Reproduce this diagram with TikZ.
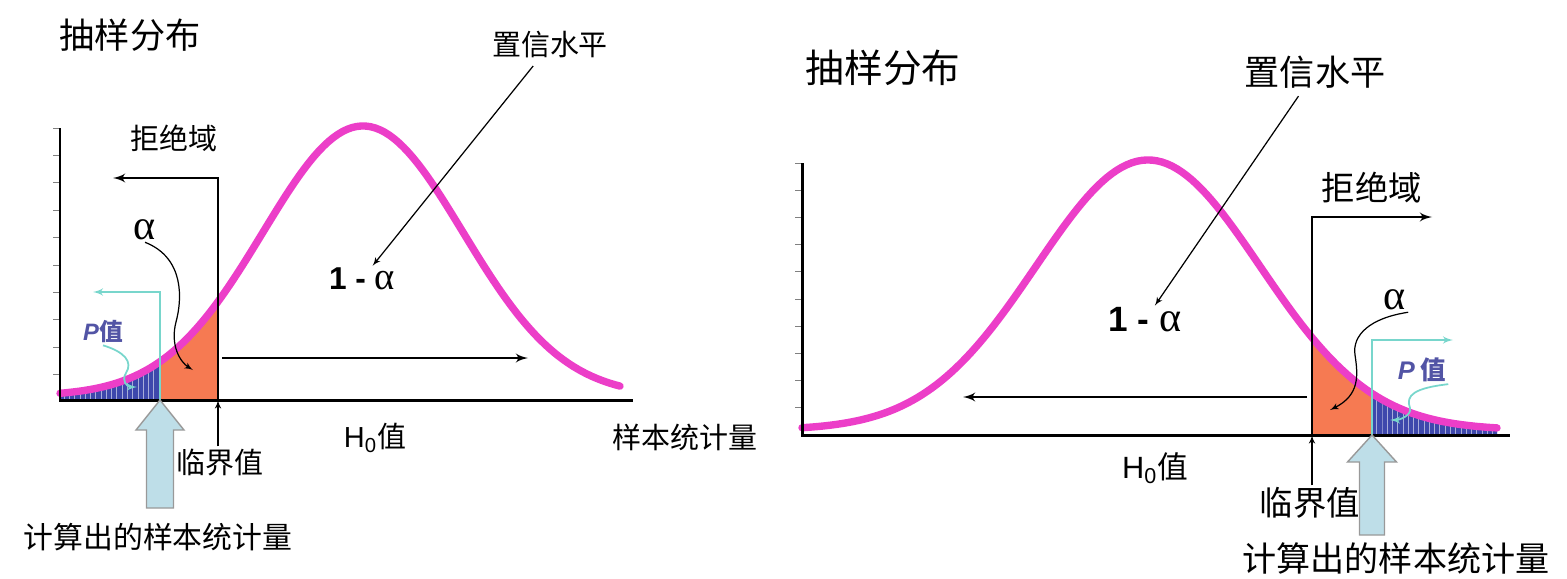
\documentclass[tikz,border=0pt]{standalone}
\usepackage{fontspec}
\setmainfont{Noto Sans CJK SC}
\newfontfamily\arialfont{Liberation Sans}
\newfontfamily\timesfont{Liberation Serif}
\usetikzlibrary{arrows, positioning, patterns}
\newcommand{\setfs}[1]{\fontsize{#1}{#1}\selectfont}
\definecolor{curvepink}{RGB}{236,62,200}
\definecolor{alphafill}{RGB}{246,122,82}
\definecolor{pfill}{RGB}{62,72,172}
\definecolor{pcyan}{RGB}{120,214,204}
\definecolor{ptext}{RGB}{82,84,165}
\definecolor{statfill}{RGB}{190,222,232}
\tikzstyle{axis} = [draw=black, line width=1.7pt]
\tikzstyle{tick} = [draw=gray, line width=0.4pt]
\tikzstyle{density} = [draw=curvepink, line width=4.2pt, line cap=round]
\tikzstyle{region} = [draw=black, line width=1.4pt, -latex']
\tikzstyle{line} = [draw, line width=0.7pt, -latex']
\tikzstyle{pline} = [draw=pcyan, line width=1pt, -latex']
\tikzstyle{statbox} = [draw=gray!80, line width=0.8pt, fill=statfill]
\tikzstyle{title} = [inner sep=1pt, font=\setfs{20}]
\tikzstyle{cntext} = [inner sep=1pt, font=\setfs{16.5}]
\tikzstyle{onealpha} = [inner sep=1pt, font=\arialfont\bfseries\setfs{18}]
\tikzstyle{greek} = [inner sep=1pt, font=\timesfont\setfs{24}]
\tikzstyle{pvalue} = [inner sep=1pt, text=ptext, font=\bfseries\setfs{13.5}]

\begin{document}
\begin{tikzpicture}[x=0.02cm, y=-0.02cm]
\useasboundingbox (0,0) rectangle (1567,578);

% Left panel
% Shaded tail areas
\fill[pfill] (60,400) -- plot[domain=60:160, samples=30] (\x, {396-270*exp(-0.5*((\x-363)/100)^2)}) -- (160,400) -- cycle;
\fill[pattern=vertical lines, pattern color=pfill!45!white] (60,400) -- plot[domain=60:160, samples=30] (\x, {396-270*exp(-0.5*((\x-363)/100)^2)}) -- (160,400) -- cycle;
\fill[alphafill] (160,400) -- plot[domain=160:218, samples=20] (\x, {396-270*exp(-0.5*((\x-363)/100)^2)}) -- (218,400) -- cycle;
\draw[density] plot[domain=60:620, samples=120] (\x, {396-270*exp(-0.5*((\x-363)/100)^2)});
\foreach \i in {0,...,9}
    \draw[tick] (53,{128+27.4*\i}) -- (60,{128+27.4*\i});
\draw[axis] (60,128) -- (60,400) -- (633,400);

\node (ltitle) [title] at (130,35) {抽样分布};
\node (lconf) [cntext] at (550,45) {置信水平};
\node (lone) [onealpha] at (362,279) {1 - {\timesfont\mdseries\setfs{22}α}};
\node (lrej) [cntext] at (174,138) {拒绝域};
\node (lalpha) [greek] at (145,230) {α};
\node (lp) [pvalue] at (103,332) {{\arialfont\itshape P}值};
\node (lcv) [cntext] at (220,462) {临界值};
\node (lh0) [cntext] at (375,438) {{\arialfont H\textsubscript{0}}值};
\node (lstat) [cntext] at (685,437) {样本统计量};
\node (lcalc) [cntext, font=\setfs{17}] at (158,537) {计算出的样本统计量};

\coordinate (lcrit) at (218,400);
\coordinate (lobs) at (160,400);
\coordinate (lrejend) at (113,178);
\coordinate (laccstart) at (222,358);
\coordinate (laccend) at (528,358);
\coordinate (lalphaend) at (193,370);
\coordinate (lpbar) at (93,292);
\coordinate (lpend) at (137,387);

% Connections
\draw [region] (lcrit) |- (lrejend);
\draw [region] (laccstart) -- (laccend);
\draw [line, shorten <=4pt] (lconf) -- (lone);
\draw [line] (lcv.north -| lcrit) -- (lcrit);
\draw [line] (lalpha.south) .. controls (185,258) and (182,300) .. (176,322) .. controls (170,345) and (180,362) .. (lalphaend);
\draw [pline] (lobs) |- (lpbar);
\draw [pline] (lp.south) .. controls (125,352) and (133,362) .. (126,373) .. controls (121,381) and (127,387) .. (lpend);
\draw [statbox] (lobs) -- ++(24,30) -- ++(-10.5,0) -- ++(0,78) -- ++(-27,0) -- ++(0,-78) -- ++(-10.5,0) -- cycle;

% Right panel
% Shaded tail areas
\fill[alphafill] (1312,435) -- plot[domain=1312:1372, samples=20] (\x, {430-270*exp(-0.5*((\x-1148)/112)^2)}) -- (1372,435) -- cycle;
\fill[pfill] (1372,435) -- plot[domain=1372:1497, samples=30] (\x, {430-270*exp(-0.5*((\x-1148)/112)^2)}) -- (1497,435) -- cycle;
\fill[pattern=vertical lines, pattern color=pfill!45!white] (1372,435) -- plot[domain=1372:1497, samples=30] (\x, {430-270*exp(-0.5*((\x-1148)/112)^2)}) -- (1497,435) -- cycle;
\draw[density] plot[domain=802:1497, samples=140] (\x, {430-270*exp(-0.5*((\x-1148)/112)^2)});
\foreach \i in {0,...,9}
    \draw[tick] (795,{163+27.2*\i}) -- (802,{163+27.2*\i});
\draw[axis] (802,163) -- (802,435) -- (1510,435);

\node (rtitle) [title, font=\setfs{22}] at (883,68) {抽样分布};
\node (rconf) [cntext, font=\setfs{20}] at (1315,72) {置信水平};
\node (rone) [onealpha, font=\arialfont\bfseries\setfs{20}] at (1145,320) {1 - {\timesfont\mdseries\setfs{24}α}};
\node (rrej) [cntext, font=\setfs{19}] at (1372,188) {拒绝域};
\node (ralpha) [greek] at (1395,300) {α};
\node (rp) [pvalue, font=\bfseries\setfs{14.5}] at (1422,370) {{\arialfont\itshape P} 值};
\node (rh0) [cntext, font=\setfs{17.5}] at (1155,468) {{\arialfont H\textsubscript{0}}值};
\node (rcv) [cntext, font=\setfs{19}] at (1310,503) {临界值};
\node (rcalc) [cntext, font=\setfs{19.4}] at (1396,558) {计算出的样本统计量};

\coordinate (rcrit) at (1312,435);
\coordinate (robs) at (1372,435);
\coordinate (rrejend) at (1432,217);
\coordinate (raccstart) at (1307,397);
\coordinate (raccend) at (963,397);
\coordinate (ralphaend) at (1330,410);
\coordinate (rpbar) at (1453,340);
\coordinate (rpend) at (1390,420);

% Connections
\draw [region] (rcrit) |- (rrejend);
\draw [region] (raccstart) -- (raccend);
\draw [line, shorten <=4pt] (rconf) -- (rone);
\draw [line] (rcv.north -| rcrit) -- (rcrit);
\draw [line] (ralpha.south east) .. controls (1370,318) and (1352,335) .. (1355,355) .. controls (1358,375) and (1360,395) .. (ralphaend);
\draw [pline] (robs) |- (rpbar);
\draw [pline] (rp.south east) .. controls (1415,388) and (1405,395) .. (1410,408) .. controls (1412,415) and (1400,420) .. (rpend);
\draw [statbox] (robs) -- ++(24.5,27) -- ++(-12,0) -- ++(0,73) -- ++(-25,0) -- ++(0,-73) -- ++(-12,0) -- cycle;

\end{tikzpicture}
\end{document}
